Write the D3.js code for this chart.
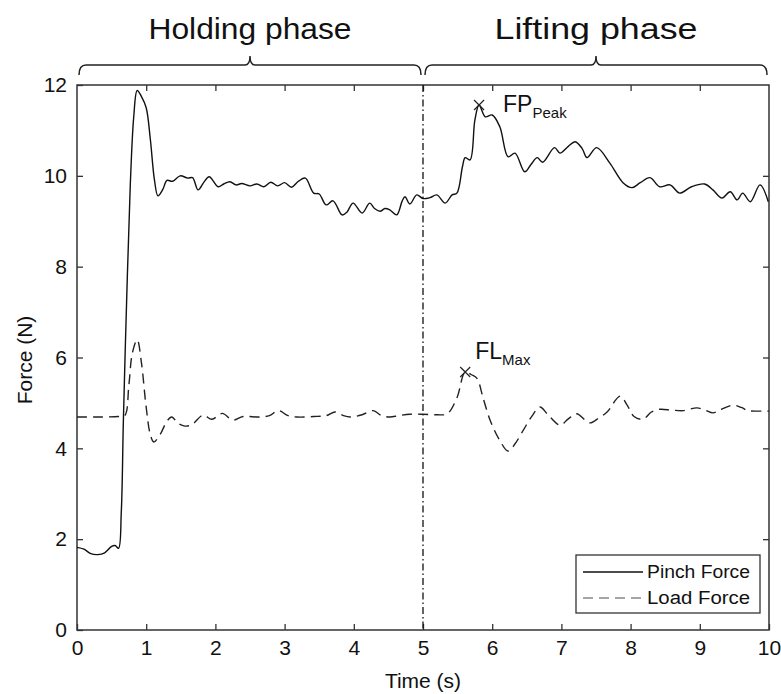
<!DOCTYPE html>
<html>
<head>
<meta charset="utf-8">
<script src="https://cdn.jsdelivr.net/npm/d3@7"></script>
<style>
  body { margin: 0; background: #fff; }
  svg text { font-family: "Liberation Sans", Arial, sans-serif; fill: #111; }
</style>
</head>
<body>
<div id="chart"></div>
<script>
// Pinch force (solid) samples
const pinchTime = [0, 0.1, 0.2, 0.3, 0.4, 0.5, 0.55, 0.6, 0.64, 0.67, 0.72, 0.77, 0.82, 0.87, 0.93, 1.0, 1.06, 1.12, 1.17, 1.24,
  1.3, 1.38, 1.49, 1.6, 1.67, 1.75, 1.83, 1.91, 2.04, 2.12, 2.21, 2.3, 2.38, 2.5, 2.6, 2.7, 2.8, 2.9, 3.0, 3.1,
  3.2, 3.3, 3.42, 3.5, 3.6, 3.7, 3.83, 3.9, 3.99, 4.12, 4.23, 4.3, 4.38, 4.45, 4.52, 4.62, 4.7, 4.74, 4.81, 4.91,
  5.0, 5.1, 5.2, 5.32, 5.42, 5.49, 5.57, 5.61, 5.68, 5.75, 5.81, 5.9, 6.0, 6.11, 6.23, 6.33, 6.47, 6.56, 6.65, 6.73,
  6.9, 6.98, 7.1, 7.2, 7.3, 7.37, 7.51, 7.7, 7.89, 8.02, 8.14, 8.28, 8.42, 8.57, 8.71, 8.88, 9.07, 9.19, 9.32, 9.44,
  9.54, 9.62, 9.73, 9.87, 9.99];
const pinchForce = [1.82, 1.78, 1.68, 1.66, 1.7, 1.84, 1.86, 1.8, 2.6, 4.6, 7.4, 9.8, 11.3, 11.88, 11.75, 11.5, 10.8, 9.9, 9.56, 9.7,
  9.9, 9.88, 10.0, 9.95, 9.96, 9.69, 9.85, 9.98, 9.76, 9.82, 9.87, 9.8, 9.83, 9.78, 9.82, 9.76, 9.86, 9.78, 9.85, 9.75,
  9.88, 9.95, 9.62, 9.6, 9.36, 9.45, 9.14, 9.2, 9.4, 9.18, 9.4, 9.28, 9.22, 9.28, 9.25, 9.14, 9.45, 9.54, 9.38, 9.58,
  9.5, 9.52, 9.58, 9.4, 9.58, 9.62, 10.2, 10.4, 10.35, 11.23, 11.56, 11.3, 11.34, 11.08, 10.42, 10.5, 10.09, 10.25, 10.4, 10.3,
  10.62, 10.5, 10.65, 10.75, 10.6, 10.4, 10.62, 10.28, 9.85, 9.74, 9.85, 9.96, 9.76, 9.8, 9.62, 9.76, 9.82, 9.69, 9.51, 9.65,
  9.47, 9.62, 9.43, 9.8, 9.43];

// Load force (dashed)
const loadTime = [0, 0.3, 0.6, 0.69, 0.75, 0.8, 0.87, 0.93, 1.0, 1.06, 1.11, 1.2, 1.3, 1.37, 1.46, 1.56, 1.66, 1.82, 1.95, 2.1,
  2.25, 2.4, 2.64, 2.78, 2.91, 3.05, 3.18, 3.42, 3.6, 3.73, 3.85, 3.95, 4.12, 4.28, 4.4, 4.52, 4.65, 4.81, 5.0, 5.2,
  5.35, 5.49, 5.61, 5.7, 5.78, 5.87, 5.97, 6.1, 6.23, 6.33, 6.45, 6.57, 6.69, 6.8, 6.98, 7.1, 7.22, 7.41, 7.55, 7.66,
  7.85, 7.95, 8.05, 8.18, 8.3, 8.42, 8.6, 8.76, 8.96, 9.08, 9.19, 9.3, 9.48, 9.6, 9.7, 9.9, 10];
const loadForce = [4.69, 4.69, 4.7, 4.72, 5.4, 6.1, 6.39, 5.9, 4.9, 4.3, 4.14, 4.3, 4.6, 4.69, 4.55, 4.49, 4.52, 4.73, 4.64, 4.77,
  4.62, 4.7, 4.69, 4.72, 4.83, 4.72, 4.69, 4.7, 4.72, 4.8, 4.72, 4.69, 4.74, 4.83, 4.72, 4.69, 4.72, 4.75, 4.75, 4.74,
  4.76, 5.11, 5.68, 5.62, 5.54, 5.1, 4.62, 4.2, 3.94, 4.1, 4.4, 4.7, 4.91, 4.75, 4.51, 4.65, 4.76, 4.56, 4.68, 4.8,
  5.15, 4.95, 4.7, 4.64, 4.8, 4.86, 4.84, 4.83, 4.89, 4.84, 4.78, 4.85, 4.95, 4.9, 4.83, 4.82, 4.82];

const xTicks = [0, 1, 2, 3, 4, 5, 6, 7, 8, 9, 10];
const yTicks = [0, 2, 4, 6, 8, 10, 12];
const phaseLabels = ["Holding phase", "Lifting phase"];
const phaseBounds = [[0, 5], [5, 10]];
const phaseSplit = 5;
const peakMarkers = [
  { main: "FP", sub: "Peak", t: 5.81, v: 11.56 },
  { main: "FL", sub: "Max", t: 5.61, v: 5.68 }
];
const legendItems = ["Pinch Force", "Load Force"];

const width = 781, height = 694;
const margin = { top: 85, right: 12, bottom: 64, left: 77 };
const innerW = width - margin.left - margin.right;
const innerH = height - margin.top - margin.bottom;

const svg = d3.select("#chart").append("svg")
  .attr("width", width)
  .attr("height", height);

const g = svg.append("g")
  .attr("transform", `translate(${margin.left},${margin.top})`);

const x = d3.scaleLinear().domain([0, 10]).range([0, innerW]);
const y = d3.scaleLinear().domain([0, 12]).range([innerH, 0]);

const axisColor = "#333";

// Axes with inward ticks
const xAxis = g.append("g")
  .attr("transform", `translate(0,${innerH})`)
  .call(d3.axisBottom(x).tickValues(xTicks).tickSizeInner(-6).tickSizeOuter(0).tickPadding(10));
const xTop = g.append("g")
  .call(d3.axisTop(x).tickValues(xTicks.slice(1, -1)).tickSizeInner(-6).tickSizeOuter(0).tickFormat(""));
const yAxis = g.append("g")
  .call(d3.axisLeft(y).tickValues(yTicks).tickSizeInner(-6).tickSizeOuter(0).tickPadding(10));
const yRight = g.append("g")
  .attr("transform", `translate(${innerW},0)`)
  .call(d3.axisRight(y).tickValues(yTicks.slice(1, -1)).tickSizeInner(-6).tickSizeOuter(0).tickFormat(""));

[xAxis, xTop, yAxis, yRight].forEach(a => {
  a.selectAll("path.domain").remove();
  a.selectAll("line").attr("stroke", axisColor).attr("stroke-width", 1.3);
  a.selectAll("text")
    .style("font-size", "21px")
    .style("font-family", "'Liberation Sans', Arial, sans-serif")
    .attr("fill", "#111");
});

g.append("rect")
  .attr("width", innerW)
  .attr("height", innerH)
  .attr("fill", "none")
  .attr("stroke", axisColor)
  .attr("stroke-width", 1.5);

// Phase separator
g.append("line")
  .attr("x1", x(phaseSplit)).attr("x2", x(phaseSplit))
  .attr("y1", 0).attr("y2", innerH)
  .attr("stroke", "#111")
  .attr("stroke-width", 1.3)
  .attr("stroke-dasharray", "7,3,1.5,3");

// Curves
const line = d3.line()
  .x(d => x(d[0]))
  .y(d => y(d[1]))
  .curve(d3.curveCatmullRom.alpha(0.5));

g.append("path")
  .datum(d3.zip(pinchTime, pinchForce))
  .attr("d", line)
  .attr("fill", "none")
  .attr("stroke", "#111")
  .attr("stroke-width", 1.4);

g.append("path")
  .datum(d3.zip(loadTime, loadForce))
  .attr("d", line)
  .attr("fill", "none")
  .attr("stroke", "#222")
  .attr("stroke-width", 1.4)
  .attr("stroke-dasharray", "10,6");

// Peak markers
peakMarkers.forEach(m => {
  const px = x(m.t), py = y(m.v);
  g.append("path")
    .attr("d", `M${px - 5},${py - 5}L${px + 5},${py + 5}M${px - 5},${py + 5}L${px + 5},${py - 5}`)
    .attr("stroke", "#222")
    .attr("stroke-width", 1.2);
  const lbl = g.append("text")
    .attr("x", px + (m.main === "FP" ? 24 : 10))
    .attr("y", py + (m.main === "FP" ? 7 : -13))
    .style("font-size", "23px");
  lbl.append("tspan").text(m.main);
  lbl.append("tspan").attr("dy", 6).style("font-size", "15px").text(m.sub);
});

// Phase braces and titles
const braceY = 65 - margin.top;
phaseBounds.forEach((b, i) => {
  const x1 = x(b[0]) + 2, x2 = x(b[1]) - 2, xm = (x1 + x2) / 2;
  g.append("path")
    .attr("d", `M${x1},${braceY + 10}Q${x1},${braceY} ${x1 + 7},${braceY}L${xm - 5},${braceY}` +
      `Q${xm},${braceY} ${xm},${braceY - 9}Q${xm},${braceY} ${xm + 5},${braceY}` +
      `L${x2 - 7},${braceY}Q${x2},${braceY} ${x2},${braceY + 10}`)
    .attr("fill", "none")
    .attr("stroke", "#222")
    .attr("stroke-width", 1.5);
  g.append("text")
    .attr("x", xm)
    .attr("y", 39 - margin.top)
    .attr("text-anchor", "middle")
    .attr("textLength", 203)
    .attr("lengthAdjust", "spacingAndGlyphs")
    .style("font-size", "30px")
    .text(phaseLabels[i]);
});

// Axis titles
g.append("text")
  .attr("x", innerW / 2)
  .attr("y", innerH + 58)
  .attr("text-anchor", "middle")
  .style("font-size", "21px")
  .text("Time (s)");

g.append("text")
  .attr("transform", `translate(${25 - margin.left},${360 - margin.top}) rotate(-90)`)
  .attr("text-anchor", "middle")
  .attr("dy", "0.35em")
  .style("font-size", "21px")
  .text("Force (N)");

// Legend
const legend = g.append("g")
  .attr("transform", `translate(${576 - margin.left},${555 - margin.top})`);
legend.append("rect")
  .attr("width", 184)
  .attr("height", 58)
  .attr("fill", "#fff")
  .attr("stroke", axisColor)
  .attr("stroke-width", 1.3);
legendItems.forEach((name, i) => {
  const ly = 17 + i * 26;
  legend.append("line")
    .attr("x1", 7).attr("x2", 67)
    .attr("y1", ly).attr("y2", ly)
    .attr("stroke", i === 0 ? "#111" : "#888")
    .attr("stroke-width", 1.4)
    .attr("stroke-dasharray", i === 0 ? null : "10,6");
  legend.append("text")
    .attr("x", 71)
    .attr("y", ly)
    .attr("dy", "0.35em")
    .attr("textLength", 103)
    .attr("lengthAdjust", "spacingAndGlyphs")
    .style("font-size", "18px")
    .text(name);
});
</script>
</body>
</html>
